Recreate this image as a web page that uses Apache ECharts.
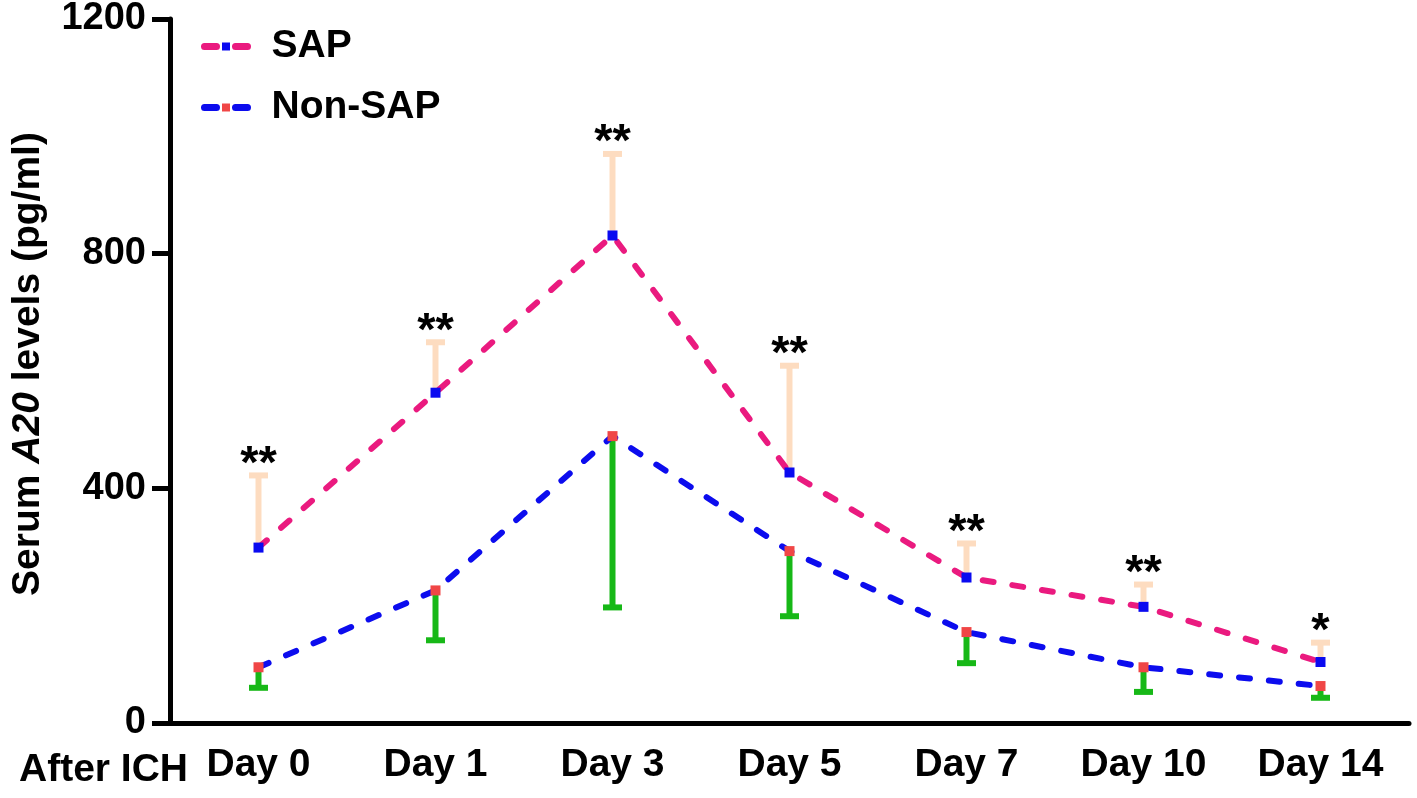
<!DOCTYPE html>
<html>
<head>
<meta charset="utf-8">
<style>
html, body { margin: 0; padding: 0; background: #fff; }
#chart { width: 1417px; height: 798px; }
</style>
<script src="https://cdn.jsdelivr.net/npm/echarts@6/dist/echarts.min.js"></script>
</head>
<body>
<div id="chart"></div>
<script>
// 数据
var days = ['Day 0', 'Day 1', 'Day 3', 'Day 5', 'Day 7', 'Day 10', 'Day 14'];
var sapMean = [299, 563, 831, 427, 248, 198, 104];
var sapUpper = [422, 649, 970, 609, 306, 236, 137];
var nonSapMean = [95, 226, 489, 293, 155, 95, 63];
var nonSapLower = [60, 141, 197, 182, 102, 53, 43];
var stars = ['**', '**', '**', '**', '**', '**', '*'];
var yTicks = [0, 400, 800, 1200];

var FONT = '"Liberation Sans", Arial, sans-serif';

var chart = echarts.init(document.getElementById('chart'));

// 误差线：竖线 + 端帽，可选星号
function errorBar(color, withStars) {
	return function(params, api) {
		var i = api.value(0);
		var p0 = api.coord([i, api.value(1)]);
		var p1 = api.coord([i, api.value(2)]);
		var half = 9.5;
		var children = [{
			type : 'line',
			shape : { x1 : p0[0], y1 : p0[1], x2 : p1[0], y2 : p1[1] },
			style : { stroke : color, lineWidth : 6 }
		}, {
			type : 'line',
			shape : { x1 : p1[0] - half, y1 : p1[1], x2 : p1[0] + half, y2 : p1[1] },
			style : { stroke : color, lineWidth : 6 }
		}];
		if (withStars) {
			children.push({
				type : 'text',
				x : p1[0],
				y : p1[1] + 13,
				style : {
					text : stars[i],
					fill : '#000',
					font : 'bold 47px ' + FONT,
					align : 'center',
					verticalAlign : 'bottom'
				}
			});
		}
		return { type : 'group', children : children };
	};
}

var option = {
	animation : false,
	title : {
		text : 'After ICH',
		left : 14,
		top : 746,
		textStyle : { fontFamily : FONT, fontWeight : 'bold', fontSize : 39, color : '#000' }
	},
	legend : {
		orient : 'vertical',
		left : 196,
		top : 22,
		itemWidth : 43,
		itemHeight : 10,
		itemGap : 22,
		data : ['SAP', 'Non-SAP'],
		lineStyle : { width : 7, type : [12, 19], cap : 'round' },
		textStyle : { fontFamily : FONT, fontWeight : 'bold', fontSize : 39, color : '#000', padding : [0, 0, 0, 19] }
	},
	grid : { left : 170, right : 8, top : 18, bottom : 75, containLabel : false },
	xAxis : {
		type : 'category',
		data : days,
		boundaryGap : true,
		axisLine : { lineStyle : { color : '#000', width : 5 } },
		axisTick : { alignWithLabel : true, length : 16, lineStyle : { color : '#000', width : 5 } },
		axisLabel : { fontFamily : FONT, fontWeight : 'bold', fontSize : 39, color : '#000', margin : 23 }
	},
	yAxis : {
		type : 'value',
		min : yTicks[0],
		max : yTicks[yTicks.length - 1],
		interval : 400,
		name : '{n|Serum }{i|A20}{n| levels (pg/ml)}',
		nameLocation : 'middle',
		nameGap : 122,
		nameTextStyle : {
			padding : [0, 0, 0, 14],
			rich : {
				n : { fontFamily : FONT, fontWeight : 'bold', fontSize : 39, color : '#000' },
				i : { fontFamily : FONT, fontWeight : 'bold', fontStyle : 'italic', fontSize : 39, color : '#000' }
			}
		},
		splitLine : { show : false },
		axisLine : { show : true, lineStyle : { color : '#000', width : 5 } },
		axisTick : { show : true, length : 18, lineStyle : { color : '#000', width : 5 } },
		axisLabel : {
			fontFamily : FONT, fontWeight : 'bold', fontSize : 38, color : '#000', margin : 24,
			formatter : function(v) { return String(v); }
		}
	},
	series : [ {
		name : 'SAP-err',
		type : 'custom',
		z : 1,
		renderItem : errorBar('#fddcc0', true),
		encode : { x : 0, y : [1, 2] },
		data : days.map(function(d, i) { return [i, sapMean[i], sapUpper[i]]; })
	}, {
		name : 'Non-SAP-err',
		type : 'custom',
		z : 1,
		renderItem : errorBar('#17b817', false),
		encode : { x : 0, y : [1, 2] },
		data : days.map(function(d, i) { return [i, nonSapMean[i], nonSapLower[i]]; })
	}, {
		name : 'SAP',
		type : 'line',
		z : 3,
		data : sapMean,
		symbol : 'rect',
		symbolSize : 10,
		itemStyle : { color : '#0a0af0' },
		lineStyle : { color : '#ea1a7f', width : 6, type : [11, 19], cap : 'round' }
	}, {
		name : 'Non-SAP',
		type : 'line',
		z : 3,
		data : nonSapMean,
		symbol : 'rect',
		symbolSize : 10,
		itemStyle : { color : '#f04646' },
		lineStyle : { color : '#0c0cee', width : 6, type : [11, 19], cap : 'round' }
	} ]
};

chart.setOption(option);
</script>
</body>
</html>
